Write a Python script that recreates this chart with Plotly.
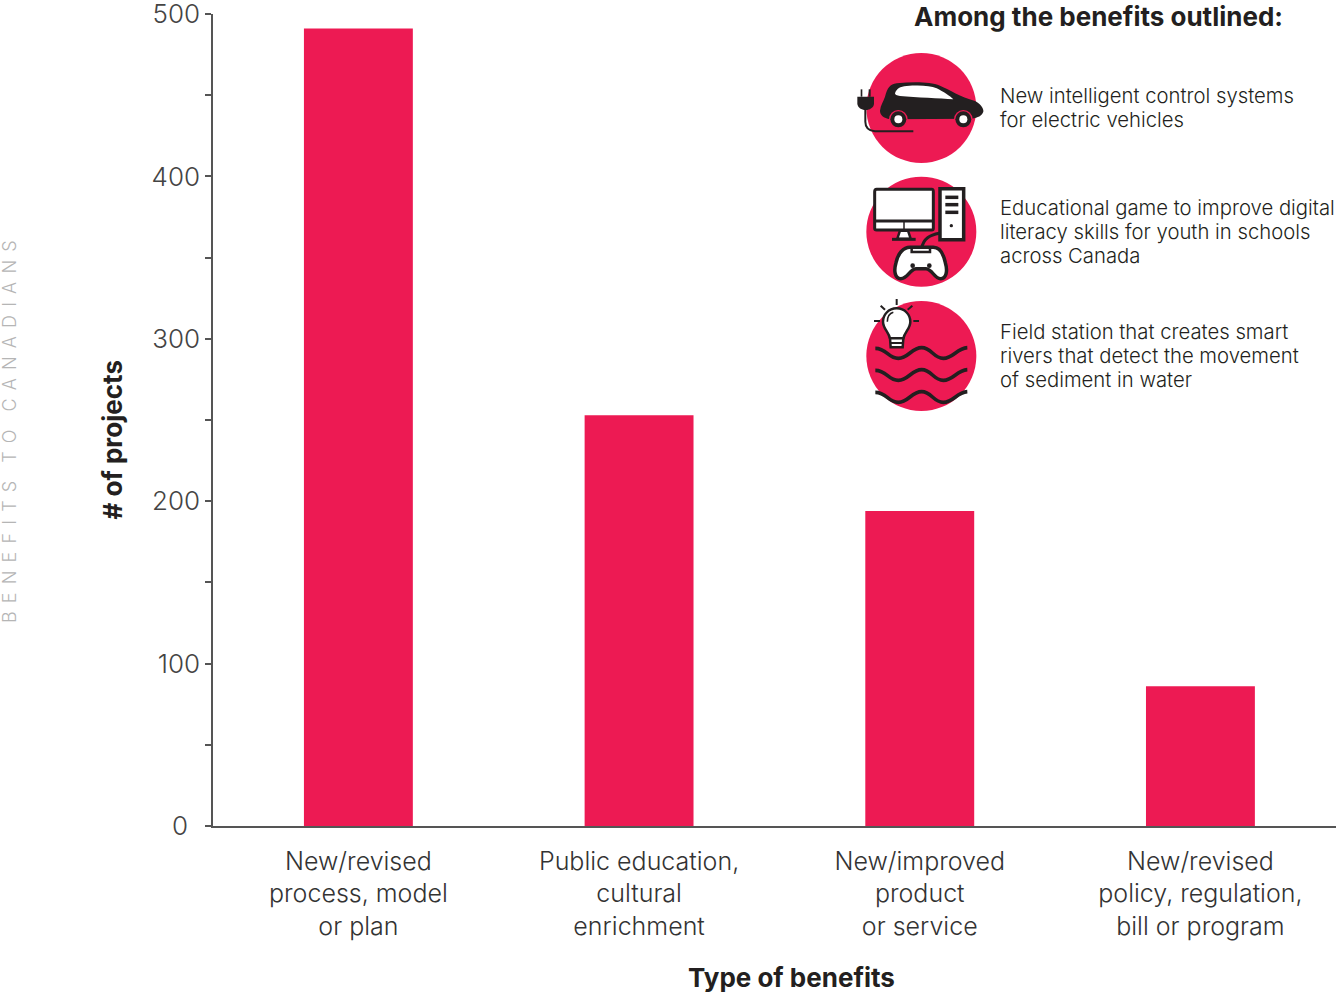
import re
import plotly.graph_objects as go

categories = ["New/revised<br>process, model<br>or plan", "Public education,<br>cultural<br>enrichment",
              "New/improved<br>product<br>or service", "New/revised<br>policy, regulation,<br>bill or program"]
values = [491, 253, 194, 86]
y_ticks = [0, 50, 100, 150, 200, 250, 300, 350, 400, 450, 500]
y_labels = ["0\u00a0\u2009", "", "100", "", "200", "", "300", "", "400", "", "500"]
x_title = "Type of benefits"
y_title = "# of projects"
benefit_heading = "Among the benefits outlined:"
benefit_notes = [["New intelligent control systems", "for electric vehicles"],
                 ["Educational game to improve digital", "literacy skills for youth in schools", "across Canada"],
                 ["Field station that creates smart", "rivers that detect the movement", "of sediment in water"]]
side_words = ["BENEFITS", "TO", "CANADIANS"]

RED = "#ED1A53"
DARK = "#231F20"
FONT = "Inter"
W, H, L, T, B = 1336, 994, 213, 14, 168
PW, PH = W - L, H - T - B


def px(text, ox, oy):
    """Icon outline written in crop coordinates (3x), placed in paper coordinates."""
    tokens = re.findall(r"[MLCQZ]|-?\d+\.?\d*", text)
    out, isx = [], True
    for t in tokens:
        if t in "MLCQZ":
            out.append(t)
            isx = True
        else:
            v = float(t)
            if isx:
                out.append(f"{(ox + v / 3 - L) / PW:.5f}")
            else:
                out.append(f"{(H - B - (oy + v / 3)) / PH:.5f}")
            isx = not isx
    s = ""
    for a in out:
        s += (" " if s and a not in "MLCQZ" and s[-1] not in "MLCQZ" else "") + a
    return s


shapes = []


def path(d, ox, oy, fill=None, line=None, w=0):
    shapes.append(dict(type="path", xref="paper", yref="paper", path=px(d, ox, oy),
                       fillcolor=fill if fill else "rgba(0,0,0,0)",
                       line=dict(color=line if line else "rgba(0,0,0,0)", width=w), layer="above"))


def circle(cx, cy, r, ox, oy, fill=None, line=None, w=0):
    shapes.append(dict(type="circle", xref="paper", yref="paper",
                       x0=(ox + (cx - r) / 3 - L) / PW, x1=(ox + (cx + r) / 3 - L) / PW,
                       y0=(H - B - (oy + (cy + r) / 3)) / PH, y1=(H - B - (oy + (cy - r) / 3)) / PH,
                       fillcolor=fill if fill else "rgba(0,0,0,0)",
                       line=dict(color=line if line else "rgba(0,0,0,0)", width=w), layer="above"))


# car icon
ox, oy = 850, 40
circle(214, 204, 165, ox, oy, RED)
path("M90 212 C92 195 100 185 105 170 C112 145 120 132 140 130 C190 125 240 125 270 137 C300 150 330 170 375 183 "
     "C390 190 402 205 400 215 C395 228 385 232 365 236 L120 238 C100 234 90 225 90 212 Z", ox, oy, DARK)
path("M135 160 C140 145 150 140 170 138 C210 135 240 137 260 145 C280 155 300 168 310 178 C270 175 200 172 150 168 "
     "C140 167 135 165 135 160 Z", ox, oy, "white")
for cx in (145, 340):
    circle(cx, 238, 28, ox, oy, RED)
    circle(cx, 238, 24, ox, oy, DARK)
    circle(cx, 238, 12, ox, oy, "white")
path("M22 170 L72 170 L72 190 C72 202 62 208 52 210 L42 210 C30 208 22 200 22 190 Z", ox, oy, DARK)
path("M32 148 L37 148 L37 170 L32 170 Z", ox, oy, DARK)
path("M56 148 L62 148 L62 170 L56 170 Z", ox, oy, DARK)
path("M46 208 L46 245 C46 262 55 272 75 274 L190 274", ox, oy, None, DARK, 2)

# computer icon
ox, oy = 850, 170
circle(214, 185, 165, ox, oy, RED)
path("M80 58 L245 58 C250 58 250 60 250 65 L250 175 C250 180 248 180 245 180 L80 180 C75 180 74 178 74 175 L74 65 "
     "C74 60 76 58 80 58 Z", ox, oy, "white", DARK, 3)
path("M74 153 L250 153", ox, oy, None, DARK, 3)
path("M162 155 L162 178", ox, oy, None, DARK, 1.5)
path("M150 182 L142 206 L182 206 L174 182 Z", ox, oy, "white", DARK, 2.5)
path("M126 208 L197 208", ox, oy, None, DARK, 3)
path("M270 56 L341 56 L341 209 L270 209 Z", ox, oy, "white", DARK, 3.5)
for by in (82, 104, 127):
    path(f"M286 {by} L325 {by}", ox, oy, None, DARK, 3.5)
circle(304, 167, 5, ox, oy, DARK)
path("M268 190 C240 195 220 205 215 235", ox, oy, None, DARK, 3)
path("M180 232 L250 232 C270 232 280 250 286 278 C294 305 288 326 272 326 C252 326 248 298 228 296 L198 296 "
     "C178 298 174 326 152 326 C136 326 130 305 138 278 C144 250 160 232 180 232 Z", ox, oy, "white", DARK, 3.5)
path("M185 232 L185 246 L240 246 L240 232", ox, oy, None, DARK, 2.5)
circle(188, 287, 7, ox, oy, DARK)
circle(238, 287, 7, ox, oy, DARK)

# field station icon
ox, oy = 850, 295
circle(214, 183, 165, ox, oy, RED)
for a, b, c, d in [(140, 12, 140, 30), (92, 32, 105, 44), (187, 32, 173, 44), (72, 78, 90, 78), (190, 78, 207, 78)]:
    path(f"M{a} {b} L{c} {d}", ox, oy, None, DARK, 2)
path("M140 40 C165 40 181 60 181 80 C181 100 165 110 160 130 L120 130 C115 110 99 100 99 80 C99 60 115 40 140 40 Z",
     ox, oy, "white", DARK, 2.5)
path("M120 130 L160 130 L158 157 L122 157 Z", ox, oy, "white", DARK, 2.5)
path("M122 144 L158 144", ox, oy, None, DARK, 2)
path("M112 80 C112 65 120 55 130 52", ox, oy, None, DARK, 1.5)
for wy in (0, 66, 132):
    path(f"M76 {160 + wy} C110 {160 + wy} 115 {190 + wy} 145 {190 + wy} C175 {190 + wy} 185 {158 + wy} 215 {158 + wy} "
         f"C245 {158 + wy} 250 {190 + wy} 280 {190 + wy} C310 {190 + wy} 320 {160 + wy} 352 {158 + wy}",
         ox, oy, None, DARK, 3.6)


def note(text, x, y, size, **kw):
    return dict(text=text, xref="paper", yref="paper", x=(x - L) / PW, y=(H - B - y) / PH, showarrow=False,
                font=dict(family=FONT, size=size, color=kw.pop("color", DARK), weight=kw.pop("weight", 300)),
                align="left", xanchor=kw.pop("xanchor", "left"), yanchor="middle", **kw)


side_label = "\u2003".join("\u2009\u2009\u200a".join(w) for w in side_words)
annotations = [
    note(benefit_heading, 1098.5, 16, 26, weight=700, xanchor="center"),
    note(y_title, 111.5, 440, 26, weight=700, xanchor="center", textangle=-90),
    note(x_title, 791, 977.5, 26, weight=700, xanchor="center"),
    note(side_label, 9.5, 431.5, 18, color="#B5B5B5", xanchor="center", textangle=-90),
]
for lines, y0 in zip(benefit_notes, (95.4, 207.4, 331.4)):
    for i, line in enumerate(lines):
        annotations.append(note(line, 998, y0 + 24 * i, 20.3))

fig = go.Figure(go.Bar(x=list(range(len(values))), y=values, width=0.388, marker=dict(color=RED, line_width=0)))
fig.update_layout(
    width=W, height=H, margin=dict(l=L, r=0, t=T, b=B, autoexpand=False), plot_bgcolor="white", paper_bgcolor="white",
    showlegend=False, shapes=shapes, annotations=annotations, font=dict(family=FONT),
    xaxis=dict(range=[-0.518, 3.483], tickmode="array", tickvals=list(range(len(values))), ticktext=categories,
               tickfont=dict(family=FONT, size=25, color="#333333", weight=300), ticks="", showgrid=False,
               zeroline=False, showline=True, linecolor="#555555", linewidth=1.5, ticklabelstandoff=12),
    yaxis=dict(range=[0, 500], tickmode="array", tickvals=y_ticks, ticktext=y_labels,
               tickfont=dict(family=FONT, size=26, color="#444444", weight=300), ticks="outside", ticklen=6,
               tickcolor="#555555", tickwidth=1.5, showgrid=False, zeroline=False, showline=True,
               linecolor="#555555", linewidth=1.5, ticklabeloverflow="allow"),
)
fig.write_html("out.html", config=dict(displayModeBar=False),
               post_script="document.body.style.margin='0';document.body.style.overflow='hidden';")
